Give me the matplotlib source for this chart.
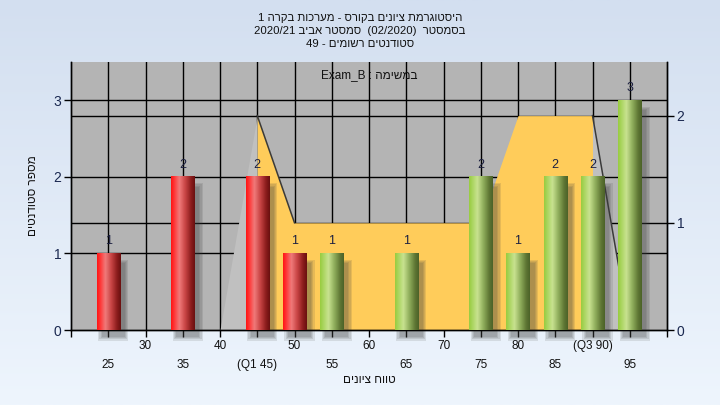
import numpy as np
import matplotlib
matplotlib.use('Agg')
import matplotlib.pyplot as plt
from matplotlib.colors import LinearSegmentedColormap
from matplotlib.patches import Rectangle
from matplotlib.transforms import blended_transform_factory

plt.rcParams['font.family'] = ['Liberation Sans', 'DejaVu Sans']

# ---------------- data ----------------
title_lines = ["היסטוגרמת ציונים בקורס - מערכות בקרה 1",
               "בסמסטר  (02/2020)  סמסטר אביב 2020/21",
               "סטודנטים רשומים - 49"]
task_label = "במשימה : Exam_B"
x_title = "טווח ציונים"
y_title = "מספר סטודנטים"

bin_centers = [25, 35, 45, 50, 55, 65, 75, 80, 85, 90, 95]
counts = [1, 2, 2, 1, 1, 1, 2, 1, 2, 2, 3]
pass_mark = 55

area_x = [40, 45, 50, 55, 60, 65, 70, 75, 80, 85, 90, 95]
area_y = [0, 2, 1, 1, 1, 1, 1, 1, 2, 2, 2, 0]
q1, q3 = 45, 90

xtick_pos = [20, 25, 30, 35, 40, 45, 50, 55, 60, 65, 70, 75, 80, 85, 90, 95, 100]
xtick_labels = ["", "25", "30", "35", "40", "(Q1 45)", "50", "55", "60", "65",
                "70", "75", "80", "85", "(Q3 90)", "95", ""]
left_ticks = [0, 1, 2, 3]
right_ticks = [0, 1, 2]


def vis(s):
    """Logical RTL string -> visual left-to-right order."""
    toks = s.split(' ')
    out = []
    for t in reversed(toks):
        if any('\u0590' <= c <= '\u05ff' for c in t):
            out.append(t[::-1])
        else:
            out.append(t)
    return ' '.join(out)


# ---------------- figure ----------------
fig = plt.figure(figsize=(7.2, 4.05), dpi=100)

bg = fig.add_axes([0, 0, 1, 1])
bg.set_zorder(-5)
grad = np.linspace(0, 1, 256).reshape(-1, 1)
bg_cmap = LinearSegmentedColormap.from_list('bg', ['#d3dff0', '#eef5fd'])
bg.imshow(grad, cmap=bg_cmap, aspect='auto', extent=[0, 1, 0, 1], origin='upper')
bg.set_axis_off()

L, B, W, H = 71 / 720, 1 - 330 / 405, (667 - 71) / 720, (330 - 62) / 405
ax2 = fig.add_axes([L, B, W, H])
ax = fig.add_axes([L, B, W, H], sharex=ax2)
ax2.set_zorder(1)
ax.set_zorder(2)
ax.patch.set_visible(False)
ax2.set_facecolor('#b4b4b4')

XMIN, XMAX = 20, 100
YL, YR = 3.5, 2.5
ax2.set_xlim(XMIN, XMAX)
ax2.set_ylim(0, YR)

# grid lines (behind area)
for v in right_ticks[1:]:
    ax2.axhline(v, color='black', lw=1.0, zorder=0.5)
tr = blended_transform_factory(ax2.transAxes, ax.transData)
for v in left_ticks[1:]:
    ax2.plot([0, 1], [v, v], transform=tr, color='black', lw=1.0, zorder=0.5)
for xv in xtick_pos[1:-1]:
    ax2.axvline(xv, color='black', lw=1.0, zorder=0.5)

# area (right axis)
ax_arr = np.array(area_x)
ay_arr = np.array(area_y)
mL = ax_arr <= q1
mM = (ax_arr >= q1) & (ax_arr <= q3)
mR = ax_arr >= q3
ax2.fill_between(ax_arr[mL], ay_arr[mL], color='#c0c0c0', lw=0, zorder=1)
ax2.fill_between(ax_arr[mR], ay_arr[mR], color='#c0c0c0', lw=0, zorder=1)
ax2.fill_between(ax_arr[mM], ay_arr[mM], color='#ffcc5a', lw=0, zorder=1)
i1 = area_x.index(q1)
i3 = area_x.index(q3)
ax2.plot(area_x[i1:i1 + 2], area_y[i1:i1 + 2], color='#3a3a3a', lw=1.1, zorder=2)
ax2.plot(area_x[i3:i3 + 2], area_y[i3:i3 + 2], color='#3a3a3a', lw=1.1, zorder=2)

# bars (left axis)
ax.set_xlim(XMIN, XMAX)
ax.set_ylim(0, YL)
red_cmap = LinearSegmentedColormap.from_list(
    'r', [(0, '#ff1414'), (0.12, '#ff3434'), (0.35, '#f07a7a'),
          (0.6, '#c84444'), (0.85, '#8a1c1c'), (1, '#6a1010')])
grn_cmap = LinearSegmentedColormap.from_list(
    'g', [(0, '#98cc40'), (0.12, '#a8d45c'), (0.35, '#c8e290'),
          (0.6, '#90ae5c'), (0.85, '#5e7634'), (1, '#4c6228')])
hg = np.linspace(0, 1, 64).reshape(1, -1)
bw = 3.1
px_x = (XMAX - XMIN) / 596.0
px_y = YL / 268.0
for xc, c in zip(bin_centers, counts):
    # shadow
    for k in range(4):
        g = k * 1.2
        ax.add_patch(Rectangle((xc - bw / 2 + 5 * px_x - g * px_x, -7 * px_y - g * px_y),
                               bw + 2 * g * px_x, c - 3 * px_y + 2 * g * px_y,
                               color='#404040', alpha=0.13, lw=0, zorder=2,
                               clip_on=False))
    cm = red_cmap if xc < pass_mark else grn_cmap
    ax.imshow(hg, cmap=cm, extent=[xc - bw / 2, xc + bw / 2, 0, c],
              aspect='auto', interpolation='bilinear', zorder=3)
    ax.text(xc, c + 6 * px_y, str(c), ha='center', va='bottom', fontsize=9,
            color='#1c2040', zorder=4)
ax.set_xlim(XMIN, XMAX)
ax.set_ylim(0, YL)

# axes styling
for a in (ax, ax2):
    a.spines['top'].set_visible(False)
    for s in ('left', 'right', 'bottom'):
        a.spines[s].set_color('black')
        a.spines[s].set_linewidth(1.0)

ax.set_yticks(left_ticks)
ax.yaxis.tick_left()
ax.tick_params(axis='y', direction='out', length=5, width=1, labelsize=10,
               labelcolor='#1a2850', pad=2, right=False, labelright=False)
ax2.yaxis.tick_right()
ax2.set_yticks(right_ticks)
ax2.tick_params(axis='y', direction='out', length=5, width=1, labelsize=10,
                labelcolor='#1a2850', pad=2, left=False, labelleft=False)
ax2.tick_params(axis='x', bottom=False, labelbottom=False)

ax.set_xticks(xtick_pos)
ax.set_xticklabels(xtick_labels)
ax.tick_params(axis='x', direction='out', length=5, width=1, labelsize=8.5,
               labelcolor='#111111')
for xv, tick in zip(xtick_pos, ax.xaxis.get_major_ticks()):
    tick.set_pad(2 if xv % 10 == 0 else 16)

# texts
ax.text(0.5, 0.95, vis(task_label), transform=ax.transAxes, ha='center',
        va='center', fontsize=8.5, color='#111111', zorder=5)
fig.text(369 / 720, 1 - 380 / 405, vis(x_title), ha='center', va='center',
         fontsize=8.5, color='#111111')
fig.text(33 / 720, 1 - 196 / 405, vis(y_title), ha='center', va='center',
         rotation=90, fontsize=8.5, color='#111111')
for i, line in enumerate(title_lines):
    fig.text(0.5, 1 - (18 + 13 * i) / 405, vis(line), ha='center', va='center',
             fontsize=8.2, color='#111111')

fig.savefig('out.png', dpi=100)
